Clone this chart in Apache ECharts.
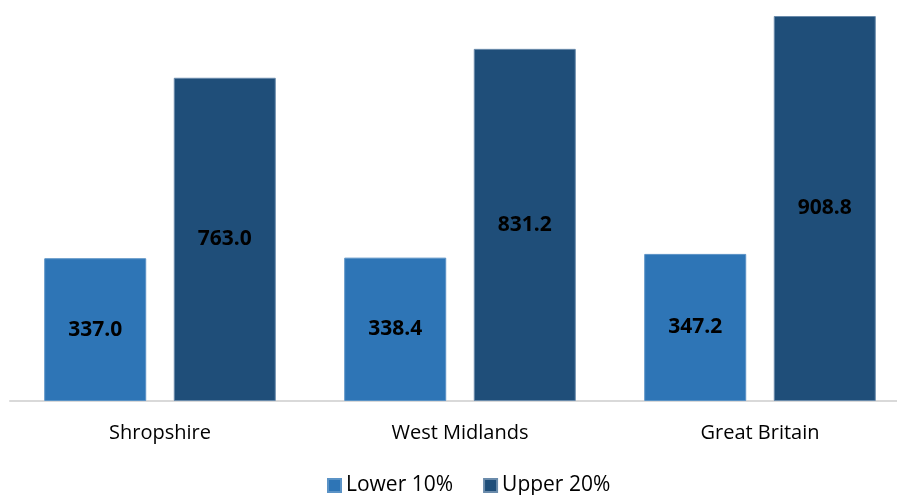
<!DOCTYPE html>
<html>
<head>
<meta charset="utf-8">
<script src="https://cdn.jsdelivr.net/npm/echarts@6/dist/echarts.min.js"></script>
<style>
html,body{margin:0;padding:0;background:#fff;overflow:hidden;}
#chart{width:910px;height:495px;}
</style>
</head>
<body>
<div id="chart"></div>
<script>
var categories = ['Shropshire', 'West Midlands', 'Great Britain'];
var lowerValues = [337.0, 338.4, 347.2];
var upperValues = [763.0, 831.2, 908.8];
var seriesNames = ['Lower 10%', 'Upper 20%'];

var myChart = echarts.init(document.getElementById('chart'));

var labelStyle = {
	show: true,
	position: 'inside',
	color: '#000',
	fontFamily: 'Open Sans',
	fontWeight: 'bold',
	fontSize: 21,
	formatter: function (p) { return p.value.toFixed(1); }
};

var option = {
	animation: false,
	grid: {
		left: 10,
		right: 0,
		top: 16,
		bottom: 94
	},
	legend: {
		top: 475,
		left: 327,
		padding: 0,
		itemWidth: 13,
		itemHeight: 13,
		itemGap: 30,
		icon: 'rect',
		textStyle: { fontFamily: 'Open Sans', fontSize: 21, color: '#000' },
		data: seriesNames
	},
	xAxis: {
		type: 'category',
		data: categories,
		axisTick: { show: false },
		axisLine: { lineStyle: { color: '#d9d9d9', width: 2 } },
		axisLabel: { fontFamily: 'Open Sans', fontSize: 20, color: '#000', margin: 22 }
	},
	yAxis: {
		type: 'value',
		min: 0,
		max: 908.8,
		show: false,
		splitLine: { show: false }
	},
	series: [
		{
			name: seriesNames[0],
			type: 'bar',
			barWidth: 102,
			barGap: '27%',
			data: lowerValues,
			itemStyle: { color: '#2e75b6', borderColor: '#5b93c6', borderWidth: 1 },
			label: labelStyle
		},
		{
			name: seriesNames[1],
			type: 'bar',
			barWidth: 102,
			data: upperValues,
			itemStyle: { color: '#1f4e79', borderColor: '#6a8bab', borderWidth: 1 },
			label: labelStyle
		}
	]
};
myChart.setOption(option);
</script>
</body>
</html>
